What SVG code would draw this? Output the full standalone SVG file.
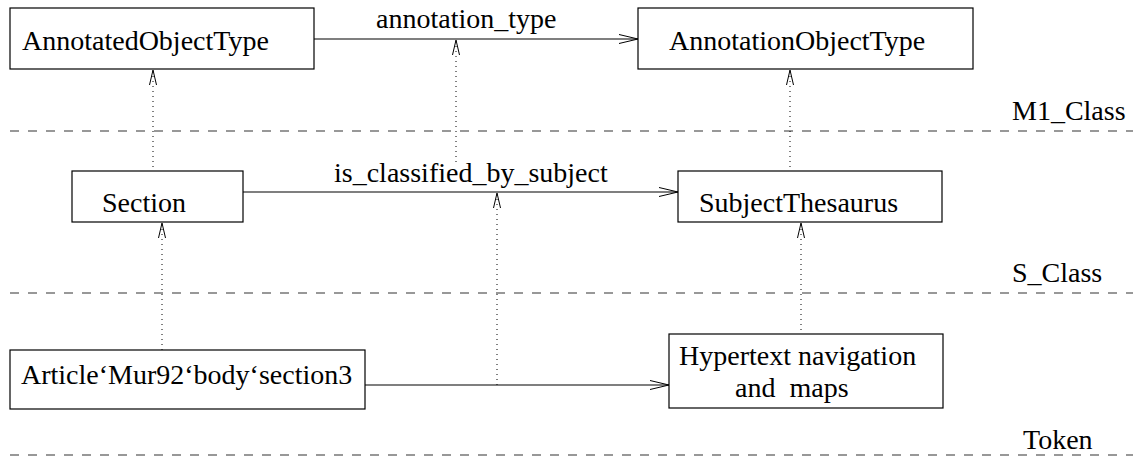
<svg xmlns="http://www.w3.org/2000/svg" width="1133" height="457" viewBox="0 0 1133 457">
  <style>
    text { font-family: "Liberation Serif", "Times New Roman", serif; font-size: 28px; fill: #000; }
    .box { fill: #fff; stroke: #000; stroke-width: 1.2; }
    .assoc { fill: none; stroke: #000; stroke-width: 1.2; }
    .inst { fill: none; stroke: #000; stroke-width: 1; stroke-dasharray: 1 4; }
    .head { fill: none; stroke: #000; stroke-width: 1; }
    .level { fill: none; stroke: #333; stroke-width: 1.2; stroke-dasharray: 9 9; }
  </style>
  <rect width="1133" height="457" fill="#fff"/>

  <!-- level separators -->
  <g id="levels">
    <line class="level" x1="10" y1="131" x2="1133" y2="131"/>
    <text x="1012" y="120">M1_Class</text>
    <line class="level" x1="10" y1="293" x2="1133" y2="293"/>
    <text x="1012" y="282">S_Class</text>
    <line class="level" x1="10" y1="455" x2="1133" y2="455"/>
    <text x="1023" y="449">Token</text>
  </g>

  <!-- nodes -->
  <g id="annotatedObjectType">
    <rect class="box" x="10" y="8" width="304" height="61"/>
    <text x="22" y="50">AnnotatedObjectType</text>
  </g>
  <g id="annotationObjectType">
    <rect class="box" x="638" y="8" width="335" height="61"/>
    <text x="669" y="50">AnnotationObjectType</text>
  </g>
  <g id="section">
    <rect class="box" x="72" y="171" width="171" height="51"/>
    <text x="102" y="212">Section</text>
  </g>
  <g id="subjectThesaurus">
    <rect class="box" x="678" y="171" width="264" height="51"/>
    <text x="699" y="212">SubjectThesaurus</text>
  </g>
  <g id="articleSection">
    <rect class="box" x="10" y="350" width="355" height="59"/>
    <text x="21" y="384">Article‘Mur92‘body‘section3</text>
  </g>
  <g id="hypertextNavigation">
    <rect class="box" x="669" y="334" width="274" height="74"/>
    <text x="679" y="365">Hypertext navigation</text>
    <text x="735" y="397" xml:space="preserve">and  maps</text>
  </g>

  <!-- connectors -->
  <g id="connectors">
    <!-- associations -->
    <line class="assoc" x1="314" y1="39" x2="638" y2="39"/>
    <polyline class="head" points="619,34.5 638,39 619,43.5"/>
    <text x="376" y="28">annotation_type</text>

    <line class="assoc" x1="243" y1="192" x2="678" y2="192"/>
    <polyline class="head" points="659,187.5 678,192 659,196.5"/>
    <text x="334" y="182">is_classified_by_subject</text>

    <line class="assoc" x1="365" y1="385" x2="669" y2="385"/>
    <polyline class="head" points="650,380.5 669,385 650,389.5"/>

    <!-- instance-of links -->
    <line class="inst" x1="153" y1="71" x2="153" y2="171"/>
    <polyline class="head" points="149.5,85 153,70 156.5,85"/>

    <line class="inst" x1="456" y1="41" x2="456" y2="163"/>
    <polyline class="head" points="452.5,55 456,40 459.5,55"/>

    <line class="inst" x1="790" y1="71" x2="790" y2="171"/>
    <polyline class="head" points="786.5,85 790,70 793.5,85"/>

    <line class="inst" x1="162" y1="224" x2="162" y2="350"/>
    <polyline class="head" points="158.5,238 162,223 165.5,238"/>

    <line class="inst" x1="497" y1="194" x2="497" y2="385"/>
    <polyline class="head" points="493.5,208 497,193 500.5,208"/>

    <line class="inst" x1="801" y1="224" x2="801" y2="334"/>
    <polyline class="head" points="797.5,238 801,223 804.5,238"/>
  </g>
</svg>
